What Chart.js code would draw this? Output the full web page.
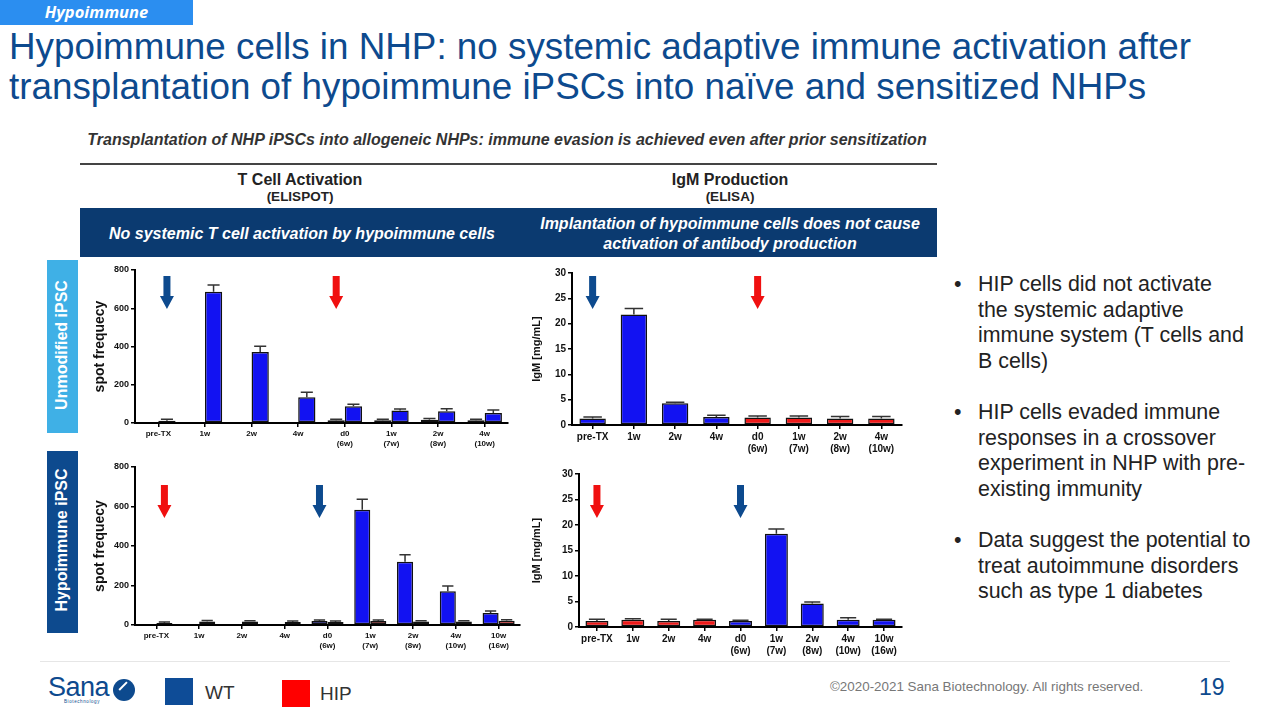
<!DOCTYPE html>
<html>
<head>
<meta charset="utf-8">
<script src="https://cdn.jsdelivr.net/npm/chart.js@4"></script>
<style>
body { margin:0; width:1280px; height:720px; position:relative; background:#fff; overflow:hidden;
       font-family:"Liberation Sans", Arial, sans-serif; }
.a { position:absolute; white-space:nowrap; }
canvas { position:absolute; }
.c { transform:translateX(-50%); text-align:center; }
</style>
</head>
<body>

<div class="a" style="left:0;top:0;width:193px;height:25px;background:#2b8ef0;"></div>
<div class="a" style="left:0;top:0;width:193px;line-height:25px;text-align:center;color:#fff;font:italic bold 16.5px 'Open Sans',sans-serif;">Hypoimmune</div>

<div class="a" style="left:9px;top:27px;color:#0d4a8e;font-size:36.8px;line-height:40px;">Hypoimmune cells in NHP: no systemic adaptive immune activation after<br>transplantation of hypoimmune iPSCs into naïve and sensitized NHPs</div>

<div class="a c" style="left:507px;top:129px;font:italic bold 16px 'Liberation Sans',Arial;line-height:22px;color:#333;">Transplantation of NHP iPSCs into allogeneic NHPs: immune evasion is achieved even after prior sensitization</div>
<div class="a" style="left:80px;top:163px;width:857px;height:2px;background:#444;"></div>

<div class="a c" style="left:300px;top:170px;font-weight:bold;font-size:16px;line-height:20px;color:#222;">T Cell Activation</div>
<div class="a c" style="left:300px;top:189px;font-weight:bold;font-size:13.5px;line-height:16px;color:#222;">(ELISPOT)</div>
<div class="a c" style="left:730px;top:170px;font-weight:bold;font-size:16px;line-height:20px;color:#222;">IgM Production</div>
<div class="a c" style="left:730px;top:189px;font-weight:bold;font-size:13.5px;line-height:16px;color:#222;">(ELISA)</div>

<div class="a" style="left:80px;top:208px;width:857px;height:49px;background:#0b3a70;"></div>
<div class="a c" style="left:302px;top:223px;color:#fff;font:italic bold 16px 'Liberation Sans',Arial;line-height:22px;">No systemic T cell activation by hypoimmune cells</div>
<div class="a c" style="left:730px;top:214px;color:#fff;font:italic bold 16px 'Liberation Sans',Arial;line-height:20px;">Implantation of hypoimmune cells does not cause<br>activation of antibody production</div>

<div class="a" style="left:47px;top:260px;width:31px;height:173px;background:#3fb0e6;"></div>
<div class="a" style="left:62px;top:345px;transform:translate(-50%,-50%) rotate(-90deg);color:#fff;font-weight:bold;font-size:16px;">Unmodified iPSC</div>
<div class="a" style="left:47px;top:451px;width:31px;height:182px;background:#0d4a8e;"></div>
<div class="a" style="left:62px;top:540px;transform:translate(-50%,-50%) rotate(-90deg);color:#fff;font-weight:bold;font-size:16px;">Hypoimmune iPSC</div>

<canvas id="tcUnmod" width="420" height="200" style="left:92px;top:262px;"></canvas>
<canvas id="igmUnmod" width="376" height="198" style="left:530px;top:264px;"></canvas>
<canvas id="tcHip" width="432" height="203" style="left:92px;top:459px;"></canvas>
<canvas id="igmHip" width="376" height="197" style="left:530px;top:465px;"></canvas>

<div class="a" style="left:954px;top:272px;font-size:21.4px;line-height:25.5px;color:#222;">•</div>
<div class="a" style="left:978px;top:272px;font-size:21.4px;line-height:25.5px;color:#222;">HIP cells did not activate<br>the systemic adaptive<br>immune system (T cells and<br>B cells)</div>
<div class="a" style="left:954px;top:400px;font-size:21.4px;line-height:25.5px;color:#222;">•</div>
<div class="a" style="left:978px;top:400px;font-size:21.4px;line-height:25.5px;color:#222;">HIP cells evaded immune<br>responses in a crossover<br>experiment in NHP with pre-<br>existing immunity</div>
<div class="a" style="left:954px;top:528px;font-size:21.4px;line-height:25.5px;color:#222;">•</div>
<div class="a" style="left:978px;top:528px;font-size:21.4px;line-height:25.5px;color:#222;">Data suggest the potential to<br>treat autoimmune disorders<br>such as type 1 diabetes</div>

<div class="a" style="left:40px;top:661px;width:1190px;height:1px;background:#e6e6e6;"></div>
<div class="a" style="left:48px;top:672px;color:#0d4a8e;font-size:27px;line-height:30px;letter-spacing:-0.5px;">Sana</div>
<div class="a" style="left:64px;top:699px;color:#0d4a8e;font-size:4.5px;letter-spacing:0.6px;">Biotechnology</div>
<div class="a" style="left:113px;top:679px;width:22px;height:22px;border-radius:50%;background:#0d4a8e;"></div>
<div class="a" style="left:119px;top:689px;width:11px;height:1.5px;background:#fff;transform:rotate(-45deg);transform-origin:0 50%;"></div>

<div class="a" style="left:165px;top:678px;width:28px;height:27px;background:#0e4c97;"></div>
<div class="a" style="left:205px;top:682px;font-size:19px;line-height:22px;color:#333;">WT</div>
<div class="a" style="left:282px;top:680px;width:28px;height:27px;background:#ff0000;"></div>
<div class="a" style="left:320px;top:683px;font-size:19px;line-height:22px;color:#333;">HIP</div>

<div class="a" style="left:830px;top:678px;font-size:13.4px;line-height:18px;color:#777;">©2020-2021 Sana Biotechnology. All rights reserved.</div>
<div class="a" style="left:1199px;top:674px;font-size:23px;line-height:26px;color:#0d4a8e;">19</div>

<script>
// time points
const labelsUnmod = ['pre-TX', '1w', '2w', '4w', ['d0', '(6w)'], ['1w', '(7w)'], ['2w', '(8w)'], ['4w', '(10w)']];
const labelsHip = ['pre-TX', '1w', '2w', '4w', ['d0', '(6w)'], ['1w', '(7w)'], ['2w', '(8w)'], ['4w', '(10w)'], ['10w', '(16w)']];

// T cell activation, unmodified iPSC first (spot frequency)
const tcUnmodWT = [12, 686, 371, 135, 88, 65, 61, 52];
const tcUnmodWTErr = [20, 721, 401, 161, 98, 73, 75, 68];
const tcUnmodHIP = [null, null, null, null, 15, 15, 17, 15];
const tcUnmodHIPErr = [null, null, null, null, 20, 20, 23, 19];

// IgM, unmodified iPSC first (mg/mL)
const igmUnmodVals = [1.3, 21.8, 4.3, 1.6, 1.5, 1.5, 1.3, 1.3];
const igmUnmodErr = [1.6, 23.0, 4.5, 1.9, 1.8, 1.8, 1.7, 1.7];
const igmUnmodGroup = ['WT', 'WT', 'WT', 'WT', 'HIP', 'HIP', 'HIP', 'HIP'];

// T cell activation, hypoimmune iPSC first
const tcHipWT = [null, null, null, null, 20, 583, 320, 171, 61];
const tcHipWTErr = [null, null, null, null, 25, 637, 356, 198, 71];
const tcHipHIP = [10, 18, 18, 15, 15, 20, 18, 18, 22];
const tcHipHIPErr = [15, 23, 22, 20, 20, 25, 22, 22, 27];

// IgM, hypoimmune iPSC first
const igmHipVals = [1.2, 1.4, 1.2, 1.4, 1.2, 18.3, 4.6, 1.4, 1.4];
const igmHipErr = [1.5, 1.6, 1.5, 1.5, 1.3, 19.2, 4.9, 1.8, 1.5];
const igmHipGroup = ['HIP', 'HIP', 'HIP', 'HIP', 'WT', 'WT', 'WT', 'WT', 'WT'];

const BLUE = '#1212f2', RED = '#ee1a1a';
const ARROW_BLUE = '#0d4a8e', ARROW_RED = '#f01010';
Chart.defaults.font.family = '"Liberation Sans", Arial, sans-serif';

// upper error bars from the errHigh array of each dataset
const errorBars = {
    id: 'errorBars',
    afterDatasetsDraw(chart) {
        const ctx = chart.ctx, y = chart.scales.y;
        chart.data.datasets.forEach((ds, i) => {
            if (!ds.errHigh) return;
            chart.getDatasetMeta(i).data.forEach((bar, j) => {
                const hi = ds.errHigh[j];
                if (hi == null || ds.data[j] == null) return;
                const top = y.getPixelForValue(hi), half = bar.width * 0.35;
                ctx.save();
                ctx.strokeStyle = '#333';
                ctx.lineWidth = 1.5;
                ctx.beginPath();
                ctx.moveTo(bar.x, bar.y);
                ctx.lineTo(bar.x, top);
                ctx.moveTo(bar.x - half, top);
                ctx.lineTo(bar.x + half, top);
                ctx.stroke();
                ctx.restore();
            });
        });
    }
};

// the down arrows that mark the injections
const arrows = {
    id: 'arrows',
    afterDraw(chart, args, opts) {
        const ctx = chart.ctx;
        (opts.items || []).forEach(a => {
            const bar = chart.getDatasetMeta(a.ds).data[a.idx];
            const x = bar.x, top = chart.chartArea.top + a.top;
            const len = 33, head = 13, shaft = 3.5, hw = 7;
            ctx.save();
            ctx.fillStyle = a.color;
            ctx.beginPath();
            ctx.moveTo(x - shaft, top);
            ctx.lineTo(x + shaft, top);
            ctx.lineTo(x + shaft, top + len - head);
            ctx.lineTo(x + hw, top + len - head);
            ctx.lineTo(x, top + len);
            ctx.lineTo(x - hw, top + len - head);
            ctx.lineTo(x - shaft, top + len - head);
            ctx.closePath();
            ctx.fill();
            ctx.restore();
        });
    }
};

function makeChart(id, labels, datasets, o) {
    return new Chart(document.getElementById(id), {
        type: 'bar',
        data: { labels: labels, datasets: datasets },
        options: {
            responsive: false,
            animation: false,
            layout: { padding: { top: o.padTop, right: 4, left: 0, bottom: 0 } },
            plugins: {
                legend: { display: false },
                tooltip: { enabled: false },
                arrows: { items: o.arrows }
            },
            scales: {
                x: {
                    grid: { display: true, drawOnChartArea: false, offset: false, tickLength: 4, color: '#000', lineWidth: 1.5 },
                    border: { color: '#000', width: 2 },
                    ticks: { color: '#111', font: { size: o.xFont, weight: 'bold' }, maxRotation: 0, autoSkip: false, padding: 2 },
                    afterFit: s => { s.height = o.xH; }
                },
                y: {
                    min: 0, max: o.max,
                    grid: { display: true, drawOnChartArea: false, tickLength: 4, color: '#000', lineWidth: 1.5 },
                    border: { color: '#000', width: 2 },
                    ticks: { stepSize: o.step, color: '#111', font: { size: o.yFont, weight: 'bold' }, padding: 2 },
                    title: { display: true, text: o.yTitle, color: '#111', font: { size: o.titleFont, weight: 'bold' }, padding: { top: 0, bottom: 0 } },
                    afterFit: s => { s.width = o.yW; }
                }
            }
        },
        plugins: [errorBars, arrows]
    });
}

const barStyle = { borderColor: '#111', borderWidth: 1.5, borderSkipped: false };

makeChart('tcUnmod', labelsUnmod, [
    Object.assign({ label: 'HIP', data: tcUnmodHIP, errHigh: tcUnmodHIPErr, backgroundColor: RED, categoryPercentage: 0.74, barPercentage: 1 }, barStyle),
    Object.assign({ label: 'WT', data: tcUnmodWT, errHigh: tcUnmodWTErr, backgroundColor: BLUE, categoryPercentage: 0.74, barPercentage: 1 }, barStyle)
], { padTop: 8, xH: 39, yW: 43, max: 800, step: 200, xFont: 8, yFont: 9, titleFont: 14, yTitle: 'spot frequecy',
     arrows: [{ ds: 1, idx: 0, color: ARROW_BLUE, top: 6 }, { ds: 0, idx: 4, color: ARROW_RED, top: 6 }] });

makeChart('igmUnmod', labelsUnmod, [
    Object.assign({ label: 'IgM', data: igmUnmodVals, errHigh: igmUnmodErr,
        backgroundColor: igmUnmodGroup.map(g => g === 'WT' ? BLUE : RED), categoryPercentage: 1, barPercentage: 0.64 }, barStyle)
], { padTop: 9, xH: 37, yW: 42, max: 30, step: 5, xFont: 10, yFont: 10, titleFont: 11, yTitle: 'IgM [mg/mL]',
     arrows: [{ ds: 0, idx: 0, color: ARROW_BLUE, top: 3 }, { ds: 0, idx: 4, color: ARROW_RED, top: 3 }] });

makeChart('tcHip', labelsHip, [
    Object.assign({ label: 'WT', data: tcHipWT, errHigh: tcHipWTErr, backgroundColor: BLUE, categoryPercentage: 0.75, barPercentage: 1 }, barStyle),
    Object.assign({ label: 'HIP', data: tcHipHIP, errHigh: tcHipHIPErr, backgroundColor: RED, categoryPercentage: 0.75, barPercentage: 1 }, barStyle)
], { padTop: 8, xH: 37, yW: 43, max: 800, step: 200, xFont: 8, yFont: 9, titleFont: 14, yTitle: 'spot frequecy',
     arrows: [{ ds: 1, idx: 0, color: ARROW_RED, top: 18 }, { ds: 0, idx: 4, color: ARROW_BLUE, top: 18 }] });

makeChart('igmHip', labelsHip, [
    Object.assign({ label: 'IgM', data: igmHipVals, errHigh: igmHipErr,
        backgroundColor: igmHipGroup.map(g => g === 'WT' ? BLUE : RED), categoryPercentage: 1, barPercentage: 0.64 }, barStyle)
], { padTop: 9, xH: 35, yW: 49, max: 30, step: 5, xFont: 10, yFont: 10, titleFont: 11, yTitle: 'IgM [mg/mL]',
     arrows: [{ ds: 0, idx: 0, color: ARROW_RED, top: 11 }, { ds: 0, idx: 4, color: ARROW_BLUE, top: 11 }] });
</script>
</body>
</html>
